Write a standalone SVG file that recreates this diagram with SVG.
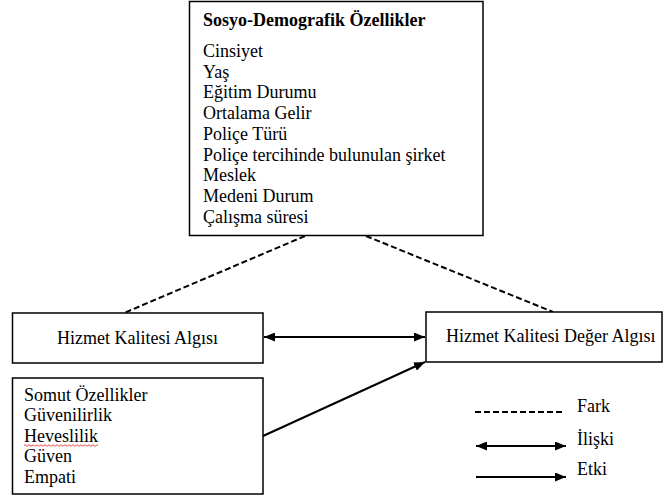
<svg xmlns="http://www.w3.org/2000/svg" width="665" height="500" viewBox="0 0 665 500">
<defs>
<marker id="ah" viewBox="0 0 11 9" refX="11" refY="4.5" markerWidth="11" markerHeight="9" markerUnits="userSpaceOnUse" orient="auto-start-reverse">
<path d="M0,0 L11,4.5 L0,9 Z" fill="#000"/>
</marker>
<style>
.box{fill:#fff;stroke:#000;stroke-width:1.5}
.t{font-family:'Liberation Serif','DejaVu Serif',serif;font-size:18px;fill:#000}
.b{font-weight:bold}
.dash{stroke:#000;stroke-width:2;stroke-dasharray:6,3;fill:none}
.arr{stroke:#000;stroke-width:2;fill:none}
</style>
</defs>
<rect width="665" height="500" fill="#fff"/>
<g id="connectors">
<line class="dash" x1="305" y1="236" x2="124" y2="313"/>
<line class="dash" x1="366" y1="236" x2="553" y2="312"/>
<line class="arr" x1="264" y1="337" x2="425" y2="337" marker-start="url(#ah)" marker-end="url(#ah)"/>
<line class="arr" x1="263" y1="436" x2="425" y2="362" marker-end="url(#ah)"/>
</g>
<g id="sosyo">
<rect class="box" x="189.5" y="1.5" width="293.5" height="234"/>
<text class="t b" x="203" y="26">Sosyo-Demografik Özellikler</text>
<text class="t" x="203" y="57">Cinsiyet</text>
<text class="t" x="203" y="77.7">Yaş</text>
<text class="t" x="203" y="98.4">Eğitim Durumu</text>
<text class="t" x="203" y="119.1">Ortalama Gelir</text>
<text class="t" x="203" y="139.8">Poliçe Türü</text>
<text class="t" x="203" y="160.5">Poliçe tercihinde bulunulan şirket</text>
<text class="t" x="203" y="181.2">Meslek</text>
<text class="t" x="203" y="201.9">Medeni Durum</text>
<text class="t" x="203" y="222.6">Çalışma süresi</text>
</g>
<g id="hka">
<rect class="box" x="12.5" y="313" width="250.5" height="50"/>
<text class="t" x="57" y="344">Hizmet Kalitesi Algısı</text>
</g>
<g id="hkda">
<rect class="box" x="426" y="312" width="236" height="50"/>
<text class="t" x="446" y="342">Hizmet Kalitesi Değer Algısı</text>
</g>
<g id="boyutlar">
<rect class="box" x="12.5" y="378" width="250.5" height="116"/>
<text class="t" x="24" y="400.5">Somut Özellikler</text>
<text class="t" x="24" y="421">Güvenilirlik</text>
<text class="t" x="24" y="441.5">Heveslilik</text>
<path d="M24,445.5 q1,-1.5 2,0 t2,0 t2,0 t2,0 t2,0 t2,0 t2,0 t2,0 t2,0 t2,0 t2,0 t2,0 t2,0 t2,0 t2,0 t2,0 t2,0 t2,0 t2,0 t2,0 t2,0 t2,0 t2,0 t2,0 t2,0 t2,0 t2,0 t2,0 t2,0 t2,0 t2,0 t2,0 t2,0 t2,0 t2,0 t2,0 t2,0" fill="none" stroke="#e02020" stroke-width="0.8"/>
<text class="t" x="24" y="462">Güven</text>
<text class="t" x="24" y="482.5">Empati</text>
</g>
<g id="legend">
<line class="dash" x1="475" y1="412" x2="565" y2="412"/>
<text class="t" x="577" y="412">Fark</text>
<line class="arr" x1="476" y1="446" x2="566" y2="446" marker-start="url(#ah)" marker-end="url(#ah)"/>
<text class="t" x="577" y="445">İlişki</text>
<line class="arr" x1="476" y1="477" x2="566" y2="477" marker-end="url(#ah)"/>
<text class="t" x="577" y="475">Etki</text>
</g>
</svg>
